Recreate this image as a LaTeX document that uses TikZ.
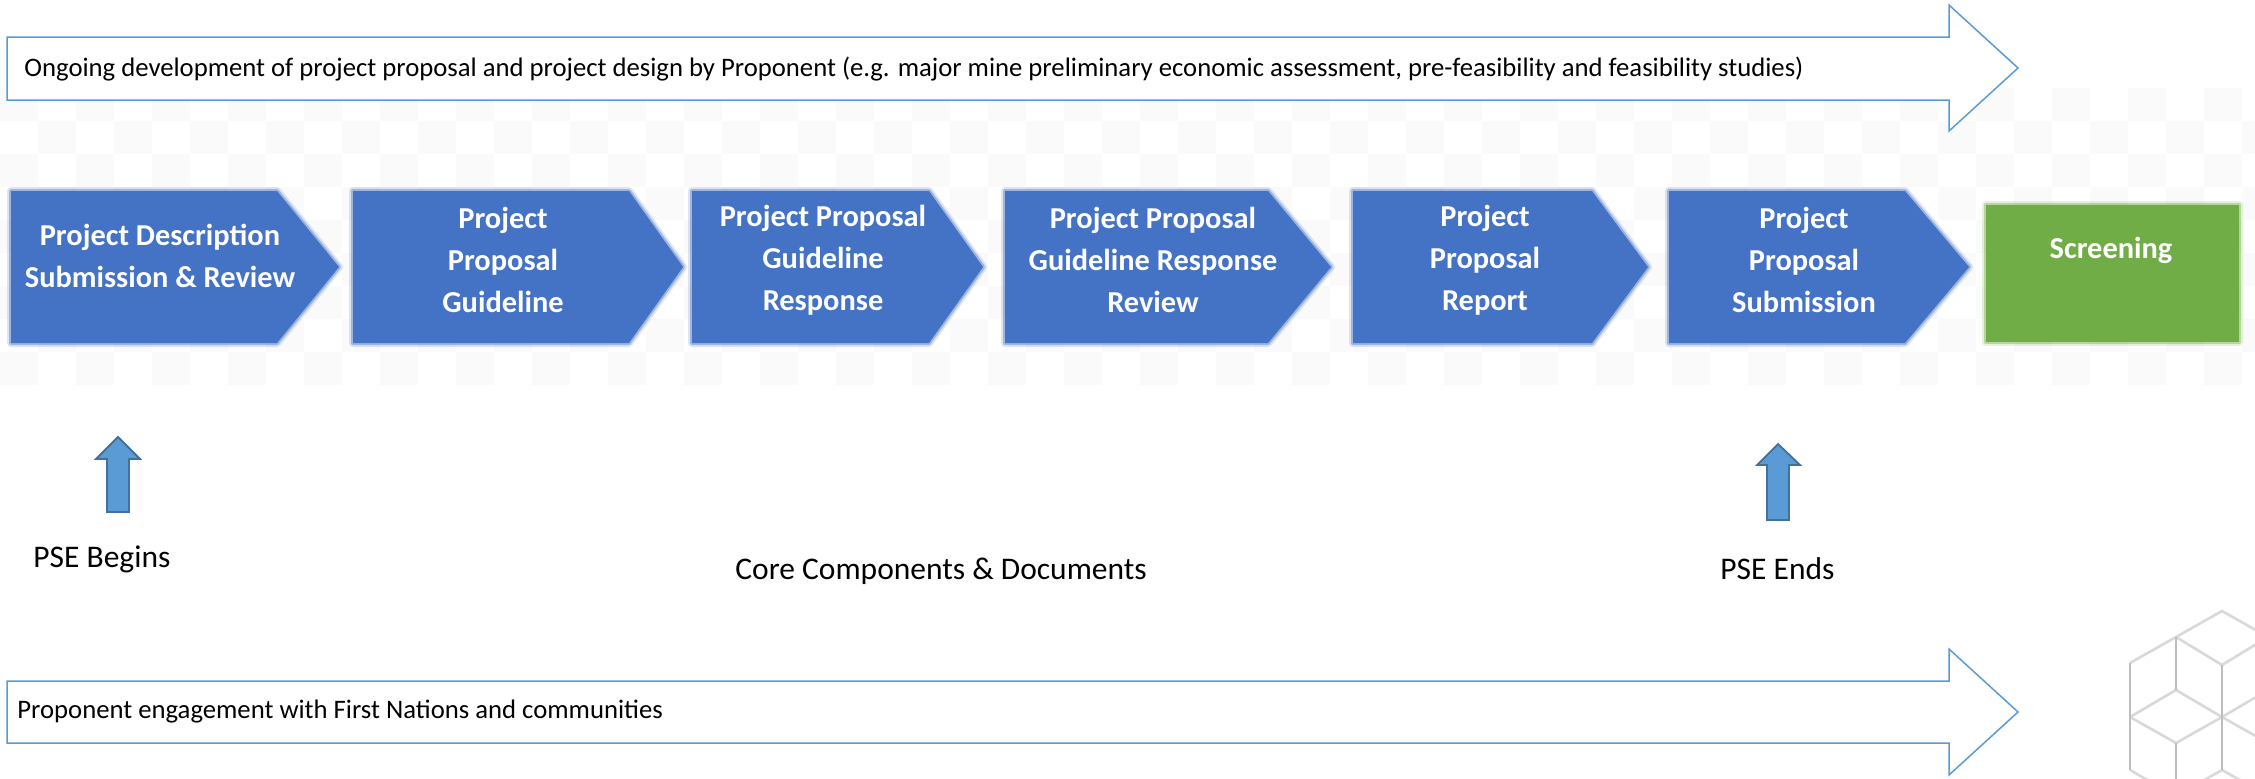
\documentclass[tikz,border=0pt]{standalone}
\usepackage{fontspec}
\setmainfont{Carlito}
\definecolor{chev}{HTML}{4472C4}
\definecolor{scr}{HTML}{70AD47}
\definecolor{arrline}{HTML}{5B9BD5}
\definecolor{upfill}{HTML}{5B9BD5}
\definecolor{upline}{HTML}{41719C}
\definecolor{cubelt}{HTML}{D9D9D9}
\definecolor{cubedk}{HTML}{BDBDBD}
\definecolor{bgsq}{HTML}{FAFAFA}
\tikzset{
  bigarrow/.style={draw=arrline, line width=0.75pt, fill=white, line join=miter},
  uparrow/.style={draw=upline, line width=0.9pt, fill=upfill, line join=miter},
  chevtext/.style={text=white, font=\fontsize{15.2}{21}\selectfont\bfseries, align=center, inner sep=0pt},
  arrowtext/.style={anchor=west, inner sep=0pt, font=\fontsize{13.35}{16}\selectfont},
  labeltext/.style={anchor=base west, inner sep=0pt, font=\fontsize{15.75}{19}\selectfont},
  softA/.style={line width=4pt, opacity=0.18, line join=round},
  softB/.style={line width=2pt, opacity=0.4, line join=round},
  cubeslant/.style={draw=cubelt, line width=1.3pt},
  cubevert/.style={draw=cubedk, line width=1.3pt},
}
\begin{document}
\begin{tikzpicture}[x=0.5pt, y=-0.5pt]
\useasboundingbox (0,0) rectangle (2255,778);
\clip (0,0) rectangle (2255,778);
\fill[white] (0,0) rectangle (2255,778);

% faint checkered background band
\foreach \i in {0,2,...,58} {
  \foreach \j in {0,2,...,8} {
    \fill[bgsq] (\i*38,88+\j*33) rectangle ++(38,33);
  }
}
\foreach \i in {1,3,...,59} {
  \foreach \j in {1,3,...,7} {
    \fill[bgsq] (\i*38,88+\j*33) rectangle ++(38,33);
  }
}

% top block arrow
\draw[bigarrow] (7,37) -- (1949,37) -- (1949,5) -- (2018,68) -- (1949,131) -- (1949,100) -- (7,100) -- cycle;
\node[arrowtext] (toptext) at (24,69) {Ongoing development of project proposal and project design by Proponent (e.g. major mine preliminary economic assessment, pre-feasibility and feasibility studies)};

% bottom block arrow
\draw[bigarrow] (7,681) -- (1949,681) -- (1949,649) -- (2018,712) -- (1949,775) -- (1949,743) -- (7,743) -- cycle;
\node[arrowtext] (bottext) at (17,712) {Proponent engagement with First Nations and communities};

% chevrons
\foreach \L/\S/\T in {11/277/339, 353/629/683, 692/929/983, 1005/1268/1331, 1353/1592/1648, 1669/1905/1969} {
  \draw[chev, softA] (\L,191) -- (\S,191) -- (\T,267) -- (\S,343) -- (\L,343) -- cycle;
  \draw[chev, softB] (\L,191) -- (\S,191) -- (\T,267) -- (\S,343) -- (\L,343) -- cycle;
  \fill[chev] (\L,191) -- (\S,191) -- (\T,267) -- (\S,343) -- (\L,343) -- cycle;
}
% screening box
\draw[scr, softA] (1986,205) rectangle (2239,342);
\draw[scr, softB] (1986,205) rectangle (2239,342);
\fill[scr] (1986,205) rectangle (2239,342);

\node[chevtext] (t1) at (160,256) {Project Description\\Submission \& Review};
\node[chevtext] (t2) at (503,260) {Project\\Proposal\\Guideline};
\node[chevtext] (t3) at (823,260) {Project Proposal\\Guideline\\Response};
\node[chevtext] (t4) at (1153,260) {Project Proposal\\Guideline Response\\Review};
\node[chevtext] (t5) at (1485,260) {Project\\Proposal\\Report};
\node[chevtext] (t6) at (1804,260) {Project\\Proposal\\Submission};
\node[chevtext] (t7) at (2111,250) {Screening};

% up arrows
\draw[uparrow] (107,512) -- (107,459) -- (96,459) -- (118,437) -- (140,459) -- (129,459) -- (129,512) -- cycle;
\draw[uparrow] (1767,520) -- (1767,465) -- (1757,465) -- (1778,444) -- (1800,465) -- (1789,465) -- (1789,520) -- cycle;

% labels
\node[labeltext] (pseb) at (33,567) {PSE Begins};
\node[labeltext] (core) at (735,579) {Core Components \& Documents};
\node[labeltext] (psee) at (1720,579) {PSE Ends};

% cube logo (partly cut off)
\draw[cubeslant] (2130,663) -- (2222,611) -- (2314,663);
\draw[cubeslant] (2130,770) -- (2222,823) -- (2314,770);
\draw[cubeslant] (2176,637) -- (2222,665) -- (2268,637);
\draw[cubeslant] (2130,717) -- (2176,690) -- (2222,717);
\draw[cubeslant] (2130,717) -- (2176,743) -- (2222,717);
\draw[cubeslant] (2222,717) -- (2268,690) -- (2314,717);
\draw[cubeslant] (2222,717) -- (2268,743) -- (2314,717);
\draw[cubeslant] (2176,796) -- (2222,770) -- (2268,796);
\draw[cubevert] (2130,663) -- (2130,770);
\draw[cubevert] (2176,637) -- (2176,690);
\draw[cubevert] (2222,665) -- (2222,770);
\draw[cubevert] (2176,743) -- (2176,796);
\draw[cubevert] (2268,637) -- (2268,690);
\draw[cubevert] (2268,743) -- (2268,796);
\draw[cubevert] (2314,663) -- (2314,770);
\end{tikzpicture}
\end{document}
